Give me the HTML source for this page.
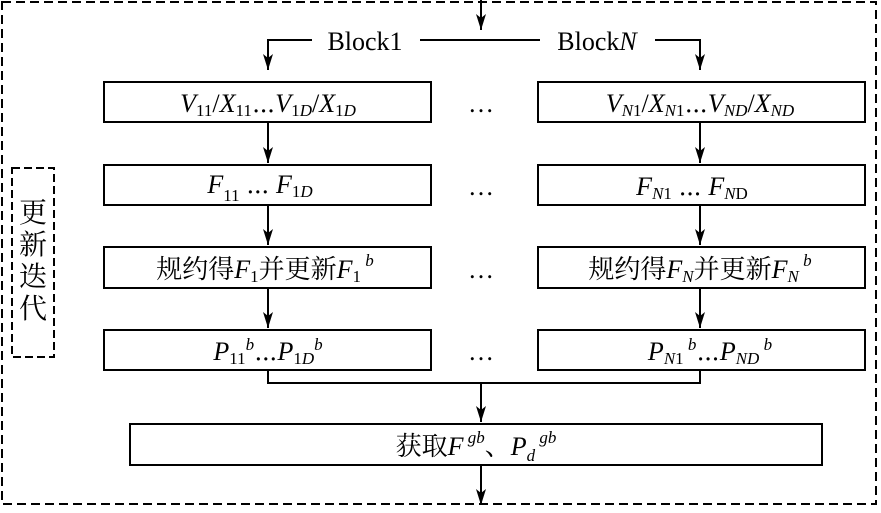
<!DOCTYPE html>
<html><head><meta charset="utf-8"><style>
body{margin:0;background:#fff}
svg text{font-family:"Liberation Serif","Noto Serif CJK SC",serif;fill:#000}
.i{font-style:italic}
</style></head><body>
<svg width="881" height="508" viewBox="0 0 881 508" xmlns="http://www.w3.org/2000/svg">
<defs><marker id="a" markerWidth="10" markerHeight="16" refX="5" refY="16" orient="auto-start-reverse" markerUnits="userSpaceOnUse"><path d="M0,0 L5,16 L10,0 L5,4 Z" fill="#000"/></marker>
<marker id="d" viewBox="0 0 10 16" markerWidth="10" markerHeight="16" refX="5" refY="16" orient="0" markerUnits="userSpaceOnUse"><path d="M0,0 L5,16 L10,0 L5,4 Z" fill="#000"/></marker></defs>
<g stroke="#000" stroke-width="2" fill="none">
<rect x="2" y="2" width="874" height="502" stroke-dasharray="9,5"/>
<rect x="12" y="168" width="42" height="189" stroke-dasharray="8,4"/>
<line x1="481" y1="0" x2="481" y2="30" marker-end="url(#d)"/>
<polyline points="312,40 268,40 268,70" marker-end="url(#d)"/>
<line x1="420" y1="40" x2="540" y2="40"/>
<polyline points="655,40 700,40 700,70" marker-end="url(#d)"/>
<rect x="104" y="82" width="327" height="40"/><rect x="538" y="82" width="327" height="40"/>
<rect x="104" y="165" width="327" height="40"/><rect x="538" y="165" width="327" height="40"/>
<rect x="104" y="247" width="327" height="41"/><rect x="538" y="247" width="327" height="41"/>
<rect x="104" y="330" width="327" height="40"/><rect x="538" y="330" width="327" height="40"/>
<rect x="130" y="424" width="692" height="41"/>
<line x1="268" y1="122" x2="268" y2="163" marker-end="url(#d)"/>
<line x1="700" y1="122" x2="700" y2="163" marker-end="url(#d)"/>
<line x1="268" y1="205" x2="268" y2="245" marker-end="url(#d)"/>
<line x1="700" y1="205" x2="700" y2="245" marker-end="url(#d)"/>
<line x1="268" y1="288" x2="268" y2="328" marker-end="url(#d)"/>
<line x1="700" y1="288" x2="700" y2="328" marker-end="url(#d)"/>
<polyline points="268,370 268,383 700,383 700,370"/>
<line x1="481" y1="383" x2="481" y2="422" marker-end="url(#d)"/>
<line x1="481" y1="465" x2="481" y2="505" marker-end="url(#d)"/>
</g>
<g font-size="26">
<text x="365" y="50" text-anchor="middle">Block1</text>
<text x="597" y="50" text-anchor="middle">Block<tspan class="i">N</tspan></text>
<text x="33" y="222" text-anchor="middle" font-size="28">更</text>
<text x="33" y="254" text-anchor="middle" font-size="28">新</text>
<text x="33" y="286" text-anchor="middle" font-size="28">迭</text>
<text x="33" y="318" text-anchor="middle" font-size="28">代</text>
<text x="481" y="112" text-anchor="middle">…</text>
<text x="481" y="195" text-anchor="middle">…</text>
<text x="481" y="278" text-anchor="middle">…</text>
<text x="481" y="360" text-anchor="middle">…</text>
<text x="268" y="112" text-anchor="middle"><tspan class="i">V</tspan><tspan font-size="17" dy="4">11</tspan><tspan dy="-4">/</tspan><tspan class="i">X</tspan><tspan font-size="17" dy="4">11</tspan><tspan dy="-4">⋯</tspan><tspan class="i">V</tspan><tspan font-size="17" dy="4">1<tspan class="i">D</tspan></tspan><tspan dy="-4">/</tspan><tspan class="i">X</tspan><tspan font-size="17" dy="4">1<tspan class="i">D</tspan></tspan></text>
<text x="700" y="112" text-anchor="middle"><tspan class="i">V</tspan><tspan font-size="17" dy="4"><tspan class="i">N</tspan>1</tspan><tspan dy="-4">/</tspan><tspan class="i">X</tspan><tspan font-size="17" dy="4"><tspan class="i">N</tspan>1</tspan><tspan dy="-4">⋯</tspan><tspan class="i">V</tspan><tspan font-size="17" dy="4" class="i">ND</tspan><tspan dy="-4">/</tspan><tspan class="i">X</tspan><tspan font-size="17" dy="4" class="i">ND</tspan></text>
<text x="260" y="193" text-anchor="middle"><tspan class="i">F</tspan><tspan font-size="17" dy="8">11</tspan><tspan dy="-8"> ⋯ </tspan><tspan class="i">F</tspan><tspan font-size="17" dy="4">1<tspan class="i">D</tspan></tspan></text>
<text x="692" y="195" text-anchor="middle"><tspan class="i">F</tspan><tspan font-size="17" dy="4"><tspan class="i">N</tspan>1</tspan><tspan dy="-4"> ⋯ </tspan><tspan class="i">F</tspan><tspan font-size="17" dy="4"><tspan class="i">N</tspan>D</tspan></text>
<text x="265" y="278" text-anchor="middle">规约得<tspan class="i">F</tspan><tspan font-size="17" dy="4">1</tspan><tspan dy="-4">并更新</tspan><tspan class="i">F</tspan><tspan font-size="17" dy="4">1</tspan><tspan font-size="17" dy="-16" class="i"> b</tspan></text>
<text x="700" y="278" text-anchor="middle">规约得<tspan class="i">F</tspan><tspan font-size="17" dy="4" class="i">N</tspan><tspan dy="-4">并更新</tspan><tspan class="i">F</tspan><tspan font-size="17" dy="4" class="i">N</tspan><tspan font-size="17" dy="-16" class="i"> b</tspan></text>
<text x="268" y="360" text-anchor="middle"><tspan class="i">P</tspan><tspan font-size="17" dy="4">11</tspan><tspan font-size="17" dy="-14" class="i">b</tspan><tspan dy="10">⋯</tspan><tspan class="i">P</tspan><tspan font-size="17" dy="4">1<tspan class="i">D</tspan></tspan><tspan font-size="17" dy="-14" class="i">b</tspan></text>
<text x="710" y="360" text-anchor="middle"><tspan class="i">P</tspan><tspan font-size="17" dy="4"><tspan class="i">N</tspan>1</tspan><tspan font-size="17" dy="-14" class="i"> b</tspan><tspan dy="10">⋯</tspan><tspan class="i">P</tspan><tspan font-size="17" dy="4" class="i">ND</tspan><tspan font-size="17" dy="-14" class="i"> b</tspan></text>
<text x="476" y="455" text-anchor="middle">获取<tspan class="i">F</tspan><tspan font-size="17" dy="-12" class="i"> gb</tspan><tspan dy="12">、</tspan><tspan class="i">P</tspan><tspan font-size="17" dy="6" class="i">d</tspan><tspan font-size="17" dy="-18" class="i"> gb</tspan></text>
</g>
</svg>
</body></html>
